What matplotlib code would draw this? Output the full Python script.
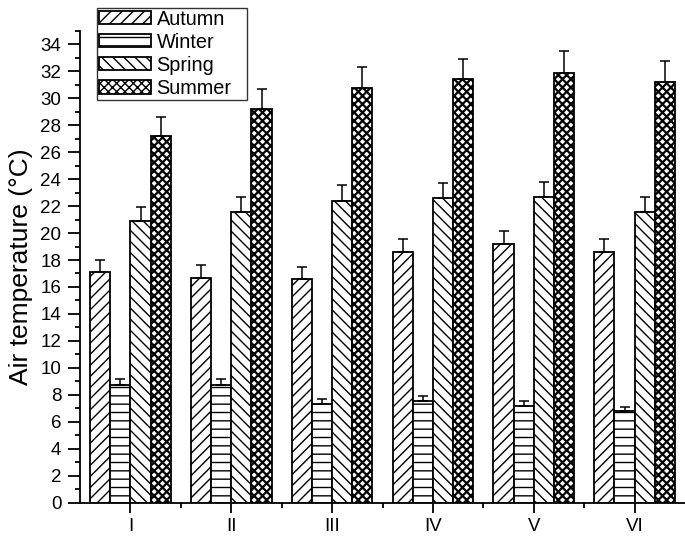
import matplotlib
matplotlib.use("Agg")
import matplotlib as mpl
import matplotlib.pyplot as plt
import numpy as np
from matplotlib.ticker import MultipleLocator, FixedLocator

plt.rcParams['font.family'] = ['Liberation Sans', 'DejaVu Sans']
plt.rcParams['hatch.linewidth'] = 1.0

sites = ["I", "II", "III", "IV", "V", "VI"]
seasons = ["Autumn", "Winter", "Spring", "Summer"]
autumn = [17.1, 16.7, 16.6, 18.6, 19.2, 18.6]
winter = [8.7, 8.7, 7.3, 7.5, 7.2, 6.8]
spring = [20.9, 21.6, 22.4, 22.6, 22.7, 21.6]
summer = [27.2, 29.2, 30.8, 31.4, 31.9, 31.2]
autumn_err = [0.9, 0.9, 0.85, 0.95, 0.95, 0.95]
winter_err = [0.45, 0.45, 0.35, 0.4, 0.35, 0.3]
spring_err = [1.05, 1.1, 1.15, 1.1, 1.1, 1.1]
summer_err = [1.4, 1.5, 1.5, 1.55, 1.6, 1.55]

values = [autumn, winter, spring, summer]
errors = [autumn_err, winter_err, spring_err, summer_err]
hatches = ['///', '--', '\\\\\\', 'xxxx']
hatch_lw = [1.0, 1.0, 1.0, 1.6]

fig = plt.figure(figsize=(6.85, 5.37), dpi=100)
ax = fig.add_axes([0.1168, 0.0642, 0.8832, 0.8781])

x = np.arange(1, len(sites) + 1)
width = 0.2
offsets = [-0.3, -0.1, 0.1, 0.3]
handles = []
for vals, errs, h, hl, off, lab in zip(values, errors, hatches, hatch_lw, offsets, seasons):
    mpl.rcParams['hatch.linewidth'] = hl
    b = ax.bar(x + off, vals, width, facecolor='white', edgecolor='black',
               linewidth=1.3, hatch=h, label=lab, zorder=2)
    for p in b:
        if hasattr(p, 'set_hatch_linewidth'):
            p.set_hatch_linewidth(hl)
    ax.errorbar(x + off, vals, yerr=[np.zeros(len(vals)), errs], fmt='none',
                ecolor='black', elinewidth=1.1, capsize=3.6, capthick=1.1, zorder=3)
    handles.append(b)
mpl.rcParams['hatch.linewidth'] = 1.0

ax.set_xlim(0.5, 6.5)
ax.set_ylim(0, 35)
ax.set_xticks(x)
ax.set_xticklabels(sites)
ax.xaxis.set_minor_locator(FixedLocator(np.arange(1.5, 6.5, 1.0)))
ax.set_yticks(np.arange(0, 35, 2))
ax.yaxis.set_minor_locator(MultipleLocator(1))
ax.tick_params(axis='both', which='major', direction='out', width=1.3, labelsize=13.5)
ax.tick_params(axis='x', which='major', length=7, pad=4)
ax.tick_params(axis='y', which='major', length=8.5, pad=5)
ax.tick_params(axis='both', which='minor', direction='out', length=3.5, width=1.3)
for s in ['top', 'right']:
    ax.spines[s].set_visible(False)
for s in ['left', 'bottom']:
    ax.spines[s].set_linewidth(1.3)

ax.set_ylabel("Air temperature (\u00b0C)", fontsize=19, labelpad=5)

leg = fig.legend(handles=handles, labels=seasons, loc='lower left',
                 bbox_to_anchor=(97 / 685, 1 - 100 / 537, 150 / 685, 0.15),
                 bbox_transform=fig.transFigure, mode='expand',
                 borderaxespad=0, fontsize=14.3, frameon=True, fancybox=False,
                 handlelength=2.6, handleheight=0.65, labelspacing=0.21,
                 handletextpad=0.3, borderpad=0.1)
leg.get_frame().set_edgecolor('black')
leg.get_frame().set_linewidth(1.0)
for hp in leg.legend_handles:
    hp.set_linewidth(1.3)

fig.savefig("out.png", dpi=100)
